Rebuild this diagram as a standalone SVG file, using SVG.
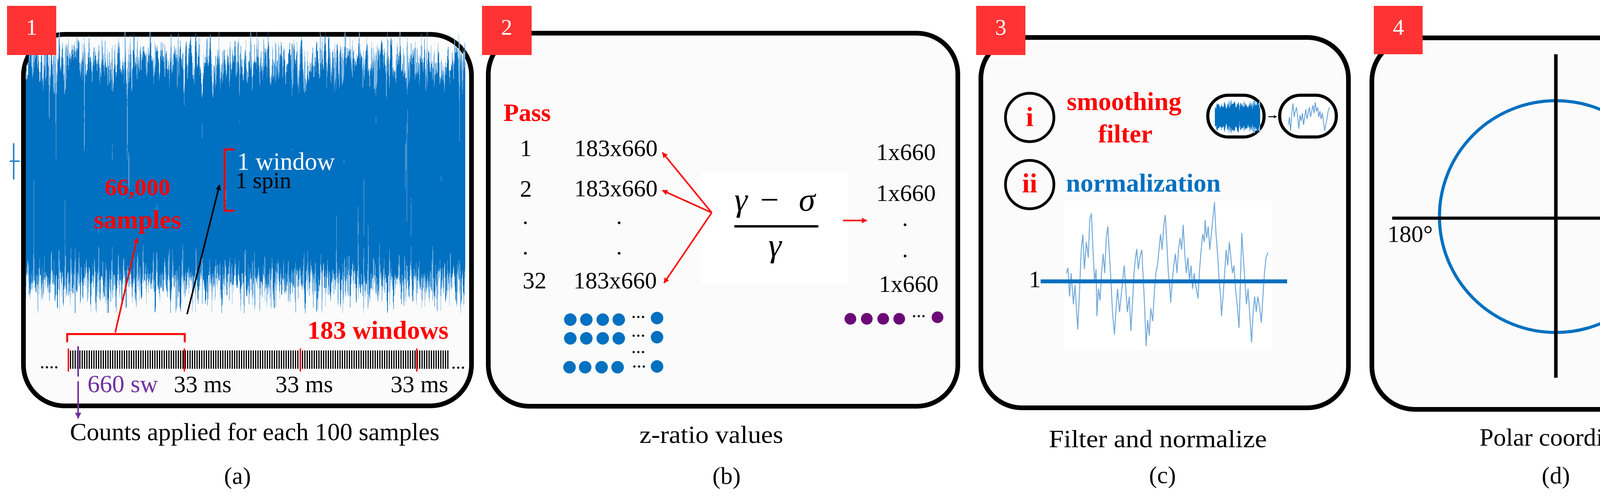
<svg xmlns="http://www.w3.org/2000/svg" width="4481" height="1271" viewBox="0 0 4481 1271">
<style>
text{font-family:"Liberation Serif","Times New Roman",serif;fill:#000}
.box{fill:#fbfbfb;stroke:#000;stroke-width:12}
.tag{fill:#ff3333}
.tagn{fill:#fff;font-size:58px;text-anchor:middle}
.t60{font-size:61px}
.red{fill:#ff0000}
.b{font-weight:bold}
.wl{font-size:66px}
.cap{font-size:63px;text-anchor:middle}
.lbl{font-size:62px;text-anchor:middle}
.dot{font-size:60px;text-anchor:middle}
.ell{font-size:48px}
.bd{fill:#0070c0}
.pd{fill:#6b0a76}
.math{font-size:85px}
.it{font-style:italic}
.arR{stroke:#ff0000;stroke-width:4;fill:none}
.arK{stroke:#000;stroke-width:4;fill:none}
.arP{stroke:#7030a0;stroke-width:4;fill:none}
</style>
<defs>
<marker id="mR" viewBox="0 0 10 10" refX="9" refY="5" markerWidth="16" markerHeight="14" markerUnits="userSpaceOnUse" orient="auto"><path d="M0,0 L10,5 L0,10 z" fill="#ff0000"/></marker>
<marker id="mK" viewBox="0 0 10 10" refX="9" refY="5" markerWidth="16" markerHeight="14" markerUnits="userSpaceOnUse" orient="auto"><path d="M0,0 L10,5 L0,10 z" fill="#000"/></marker>
<marker id="mP" viewBox="0 0 10 10" refX="9" refY="5" markerWidth="18" markerHeight="16" markerUnits="userSpaceOnUse" orient="auto"><path d="M0,0 L10,5 L0,10 z" fill="#7030a0"/></marker>
<marker id="mKs" viewBox="0 0 10 10" refX="9" refY="5" markerWidth="8" markerHeight="8" markerUnits="userSpaceOnUse" orient="auto"><path d="M0,0 L10,5 L0,10 z" fill="#000"/></marker>
<linearGradient id="gSig" x1="0" y1="0" x2="0" y2="1">
<stop offset="0" stop-color="#000" stop-opacity="0"/>
<stop offset="0.24" stop-color="#000" stop-opacity="1"/>
<stop offset="0.75" stop-color="#000" stop-opacity="1"/>
<stop offset="1" stop-color="#000" stop-opacity="0"/>
</linearGradient>
<linearGradient id="gThumb" x1="0" y1="0" x2="0" y2="1">
<stop offset="0" stop-color="#000" stop-opacity="0"/>
<stop offset="0.32" stop-color="#000" stop-opacity="1"/>
<stop offset="0.68" stop-color="#000" stop-opacity="1"/>
<stop offset="1" stop-color="#000" stop-opacity="0"/>
</linearGradient>
<filter id="fDark" x="0" y="0" width="1" height="1" color-interpolation-filters="sRGB">
<feTurbulence type="fractalNoise" baseFrequency="0.2 0.0015" numOctaves="3" seed="4" result="n"/>
<feColorMatrix in="n" type="matrix" values="0 0 0 0 0  0 0 0 0 0  0 0 0 0 0  1 0 0 0 0" result="na"/>
<feComposite in="SourceAlpha" in2="na" operator="arithmetic" k1="0" k2="1.5" k3="2.6" k4="-1.55" result="s"/>
<feComponentTransfer in="s" result="m"><feFuncA type="discrete" tableValues="0 1"/></feComponentTransfer>
<feFlood flood-color="#0070c0"/>
<feComposite in2="m" operator="in"/>
</filter>
<filter id="fLight" x="0" y="0" width="1" height="1" color-interpolation-filters="sRGB">
<feTurbulence type="fractalNoise" baseFrequency="0.22 0.0015" numOctaves="3" seed="11" result="n"/>
<feColorMatrix in="n" type="matrix" values="0 0 0 0 0  0 0 0 0 0  0 0 0 0 0  1 0 0 0 0" result="na"/>
<feComposite in="SourceAlpha" in2="na" operator="arithmetic" k1="0" k2="1.5" k3="2.6" k4="-1.45" result="s"/>
<feComponentTransfer in="s" result="m"><feFuncA type="discrete" tableValues="0 1"/></feComponentTransfer>
<feFlood flood-color="#7db5e3"/>
<feComposite in2="m" operator="in"/>
</filter>
</defs>
<rect width="4481" height="1271" fill="#fff"/>

<g id="panel1">
<rect class="box" x="60" y="88" width="1147" height="952" rx="105"/>
<g id="signal">
<rect x="66" y="82" width="1125" height="720" fill="url(#gSig)" filter="url(#fLight)"/>
<rect x="66" y="82" width="1125" height="720" fill="url(#gSig)" filter="url(#fDark)"/>
<path d="M35,367 V460 M25,413 H50" stroke="#2e86cc" stroke-width="4" fill="none"/>
</g>
<path d="M600,383 H575 V540 H600" stroke="#ff0000" stroke-width="5" fill="none"/>
<text x="607" y="435" style="font-size:63px;fill:#fff">1 window</text>
<text x="603" y="482" style="font-size:59px">1 spin</text>
<text class="red b" x="352" y="500" style="font-size:61px;text-anchor:middle">66,000</text>
<text class="red b wl" x="352" y="585" style="text-anchor:middle">samples</text>
<path d="M172,877 V856 H473 V877" stroke="#ff0000" stroke-width="5" fill="none"/>
<text class="red b wl" x="787" y="868">183 windows</text>
<line x1="179" y1="921.5" x2="1150" y2="921.5" stroke="#000" stroke-width="47" stroke-dasharray="3 3"/>
<path d="M175,893 V952 M472,893 V952 M769,893 V952 M1067,893 V952" stroke="#ff0000" stroke-width="3.5"/>
<text class="ell" x="102" y="944">....</text>
<text class="ell" x="1155" y="945">...</text>
<text x="224" y="1005" style="font-size:63px;fill:#7030a0">660 sw</text>
<text class="t60" x="445" y="1005">33 ms</text>
<text class="t60" x="705" y="1005">33 ms</text>
<text class="t60" x="1000" y="1005">33 ms</text>
<text class="cap" x="652" y="1128" textLength="946" lengthAdjust="spacingAndGlyphs">Counts applied for each 100 samples</text>
<text class="lbl" x="608" y="1240">(a)</text>
</g>

<g id="panel2">
<rect class="box" x="1250" y="85" width="1202" height="956" rx="105"/>
<text class="red b" x="1289" y="310" style="font-size:64px">Pass</text>
<text class="t60" x="1331" y="400">1</text>
<text class="t60" x="1470" y="400">183x660</text>
<text class="t60" x="1331" y="504">2</text>
<text class="t60" x="1470" y="503">183x660</text>
<text class="dot" x="1345" y="574">.</text>
<text class="dot" x="1585" y="574">.</text>
<text class="dot" x="1345" y="652">.</text>
<text class="dot" x="1585" y="652">.</text>
<text class="t60" x="1338" y="739">32</text>
<text class="t60" x="1468" y="739">183x660</text>
<g id="formula">
<rect x="1794" y="442" width="379" height="286" fill="#fff"/>
<text class="math it" x="1880" y="540">γ</text>
<text class="math" x="1946" y="540">−</text>
<text class="math it" x="2045" y="540">σ</text>
<line x1="1880" y1="580" x2="2095" y2="580" stroke="#000" stroke-width="6"/>
<text class="math it" x="1967" y="657">γ</text>
</g>
<text class="t60" x="2243" y="410">1x660</text>
<text class="t60" x="2243" y="515">1x660</text>
<text class="dot" x="2317" y="579">.</text>
<text class="dot" x="2317" y="659">.</text>
<text class="t60" x="2250" y="748">1x660</text>
<g id="blueDots" class="bd">
<circle cx="1460" cy="819" r="16"/><circle cx="1501" cy="819" r="16"/><circle cx="1543" cy="819" r="16"/><circle cx="1584" cy="819" r="16"/><circle cx="1682" cy="815" r="16"/>
<circle cx="1460" cy="867" r="16"/><circle cx="1501" cy="867" r="16"/><circle cx="1543" cy="867" r="16"/><circle cx="1584" cy="867" r="16"/><circle cx="1682" cy="864" r="16"/>
<circle cx="1458" cy="941" r="16"/><circle cx="1498" cy="941" r="16"/><circle cx="1540" cy="941" r="16"/><circle cx="1581" cy="941" r="16"/><circle cx="1682" cy="939" r="16"/>
</g>
<text class="ell" x="1616" y="815">...</text>
<text class="ell" x="1616" y="863">...</text>
<text class="ell" x="1616" y="905">...</text>
<text class="ell" x="1618" y="942">...</text>
<g id="purpleDots" class="pd">
<circle cx="2177" cy="817" r="15"/><circle cx="2219" cy="817" r="15"/><circle cx="2261" cy="817" r="15"/><circle cx="2302" cy="817" r="15"/><circle cx="2400" cy="813" r="15"/>
</g>
<text class="ell" x="2334" y="813">...</text>
<text class="cap" x="1821" y="1135" textLength="368" lengthAdjust="spacingAndGlyphs">z-ratio values</text>
<text class="lbl" x="1860" y="1240">(b)</text>
</g>

<g id="panel3">
<rect class="box" x="2511" y="96" width="941" height="949" rx="105"/>
<circle cx="2636" cy="301" r="62" fill="none" stroke="#000" stroke-width="7"/>
<text class="red b" x="2636" y="323" style="font-size:70px;text-anchor:middle">i</text>
<text class="red b wl" x="2731" y="282">smoothing</text>
<text class="red b wl" x="2811" y="365">filter</text>
<rect x="3092" y="244" width="144" height="107" rx="53" fill="#fff" stroke="#000" stroke-width="8"/>
<rect x="3110" y="256" width="116" height="86" fill="url(#gThumb)" filter="url(#fLight)"/>
<rect x="3110" y="256" width="116" height="86" fill="url(#gThumb)" filter="url(#fDark)"/>
<rect x="3276" y="244" width="145" height="107" rx="53" fill="#fff" stroke="#000" stroke-width="8"/>
<polyline fill="none" stroke="#5b9bd5" stroke-width="2" points="3298,320 3301,300 3304,335 3307,290 3310,265 3313,300 3316,285 3319,275 3322,300 3325,330 3328,295 3331,310 3334,290 3337,320 3340,300 3343,280 3346,305 3349,290 3352,275 3355,300 3358,285 3361,270 3364,290 3367,262 3370,285 3373,275 3376,300 3379,285 3382,305 3385,290 3388,310 3391,335 3394,320 3397,305 3400,285 3403,275"/>
<circle cx="2636" cy="473" r="62" fill="none" stroke="#000" stroke-width="7"/>
<text class="red b" x="2636" y="493" style="font-size:70px;text-anchor:middle">ii</text>
<text class="b wl" x="2729" y="491" style="fill:#0070c0">normalization</text>
<rect x="2723" y="514" width="534" height="381" fill="#fff"/>
<polyline fill="none" stroke="#5b9bd5" stroke-width="2.5" stroke-opacity="0.85" points="2730,700 2734,686 2738,760 2742,700 2748,780 2752,730 2759,844 2763,760 2768,640 2772,601 2776,690 2781,620 2786,660 2790,560 2794,547 2798,640 2802,720 2806,690 2808,810 2812,740 2816,770 2820,700 2824,650 2828,700 2832,610 2836,580 2840,650 2844,720 2848,800 2853,857 2857,790 2861,740 2866,800 2870,760 2874,720 2878,680 2882,740 2886,800 2891,760 2895,848 2899,780 2903,700 2907,660 2910,638 2914,690 2918,660 2923,640 2927,720 2930,780 2934,887 2938,820 2942,860 2946,790 2951,823 2955,750 2959,700 2963,680 2967,640 2971,600 2975,640 2979,580 2983,551 2987,620 2991,700 2995,740 2997,775 3001,720 3005,680 3009,650 3013,700 3017,640 3021,610 3025,640 3029,576 3033,650 3037,700 3041,660 3045,720 3049,680 3053,740 3057,700 3061,730 3067,765 3071,690 3075,640 3079,600 3083,620 3085,564 3089,610 3093,580 3097,640 3101,600 3105,560 3109,518 3113,600 3117,650 3121,720 3125,760 3127,810 3131,760 3135,700 3139,640 3143,680 3147,620 3151,660 3155,700 3159,680 3163,740 3167,780 3172,840 3176,700 3179,597 3183,660 3187,720 3191,780 3195,740 3199,800 3204,878 3208,800 3212,760 3216,800 3220,760 3225,790 3229,827 3233,760 3237,700 3241,660 3246,647"/>
<line x1="2664" y1="721" x2="3295" y2="721" stroke="#0070c0" stroke-width="10"/>
<text class="t60" x="2634" y="736">1</text>
<text class="cap" x="2964" y="1146" textLength="558" lengthAdjust="spacingAndGlyphs">Filter and normalize</text>
<text class="lbl" x="2976" y="1238">(c)</text>
</g>

<g id="panel4">
<rect class="box" x="3512" y="97" width="945" height="952" rx="110"/>
<ellipse cx="3983" cy="555" rx="298" ry="297" fill="none" stroke="#0070c0" stroke-width="8"/>
<line x1="3983" y1="139" x2="3983" y2="968" stroke="#000" stroke-width="9"/>
<line x1="3564" y1="559" x2="4395" y2="559" stroke="#000" stroke-width="8"/>
<text class="t60" x="3552" y="620">180°</text>
<text class="t60" x="4301" y="620">0°</text>
<text class="cap" x="4012" y="1142" textLength="449" lengthAdjust="spacingAndGlyphs">Polar coordinates</text>
<text class="lbl" x="3983" y="1239">(d)</text>
</g>

<g id="tags">
<g id="tag1"><rect class="tag" x="18" y="15" width="126" height="126"/><text class="tagn" x="81" y="89">1</text></g>
<g id="tag2"><rect class="tag" x="1234" y="15" width="127" height="126"/><text class="tagn" x="1297" y="89">2</text></g>
<g id="tag3"><rect class="tag" x="2499" y="15" width="126" height="126"/><text class="tagn" x="2562" y="89">3</text></g>
<g id="tag4"><rect class="tag" x="3517" y="15" width="125" height="124"/><text class="tagn" x="3580" y="89">4</text></g>
</g>

<g id="connectors">
<line class="arR" x1="295" y1="852" x2="351" y2="610" marker-end="url(#mR)"/>
<line class="arK" x1="479" y1="805" x2="562" y2="474" marker-end="url(#mK)"/>
<path class="arP" d="M200,887 V965"/>
<line class="arP" x1="200" y1="977" x2="200" y2="1072" marker-end="url(#mP)"/>
<line class="arR" x1="1822" y1="545" x2="1696" y2="391" marker-end="url(#mR)"/>
<line class="arR" x1="1822" y1="545" x2="1696" y2="488" marker-end="url(#mR)"/>
<line class="arR" x1="1822" y1="545" x2="1700" y2="725" marker-end="url(#mR)"/>
<line class="arR" x1="2158" y1="565" x2="2219" y2="565" marker-end="url(#mR)"/>
<line x1="3247" y1="299" x2="3268" y2="299" stroke="#000" stroke-width="2.5" marker-end="url(#mKs)"/>
</g>
</svg>
